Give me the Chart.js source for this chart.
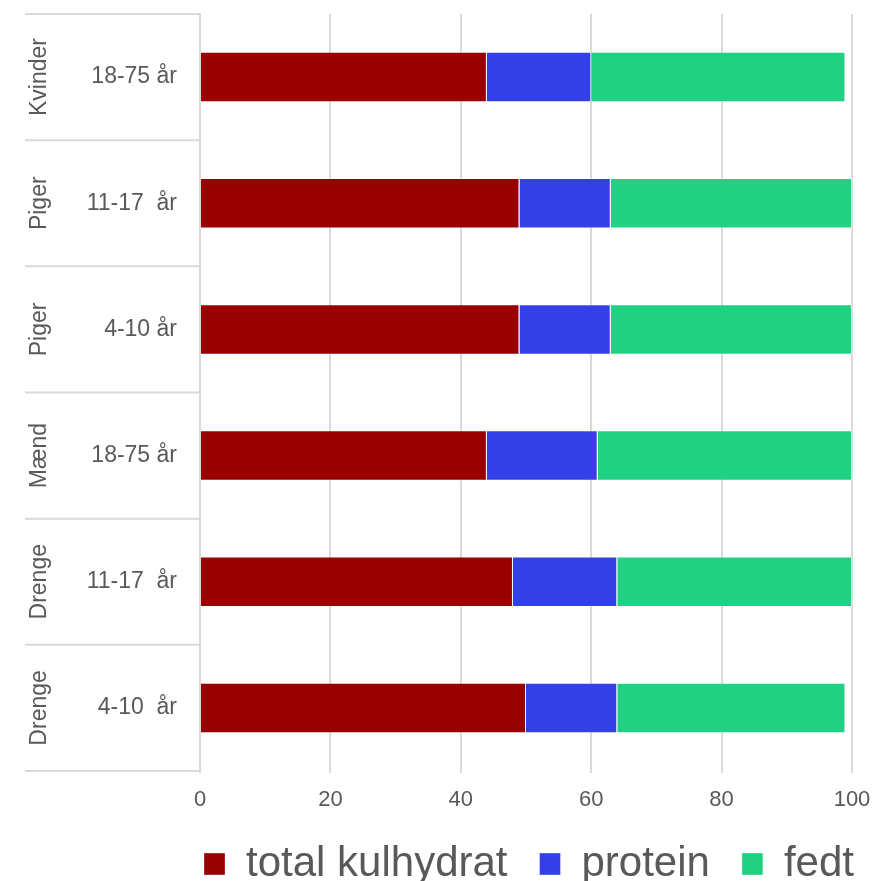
<!DOCTYPE html>
<html>
<head>
<meta charset="utf-8">
<script src="https://cdn.jsdelivr.net/npm/chart.js@4/dist/chart.umd.min.js"></script>
<style>
  html, body { margin: 0; padding: 0; background: #fff; }
  #wrap { width: 874px; height: 881px; }
</style>
</head>
<body>
<div id="wrap"><canvas id="energyChart"></canvas></div>
<script>
// Categories (top to bottom) and their group labels
const ageLabels = ['18-75 år', '11-17  år', '4-10 år', '18-75 år', '11-17  år', '4-10  år'];
const groupLabels = ['Kvinder', 'Piger', 'Piger', 'Mænd', 'Drenge', 'Drenge'];

// Energy share (%) per macronutrient
const kulhydrat = [44, 49, 49, 44, 48, 50];
const protein = [16, 14, 14, 17, 16, 14];
const fedt = [39, 37, 37, 39, 36, 35];

const xTicks = [0, 20, 40, 60, 80, 100];

const textColor = '#595959';
const lineColor = '#d9d9d9';
const fontFamily = '"Liberation Sans", Arial, sans-serif';

// Draws rotated group labels and the separator lines in the label area
const groupLabelPlugin = {
    id: 'groupLabels',
    afterLayout(chart) {
        // legend sits under the plot area rather than the whole canvas
        chart.legend.left += 103;
        chart.legend.right += 103;
    },
    afterDraw(chart) {
        const ctx = chart.ctx;
        const yScale = chart.scales.y;
        const left = 25;
        const right = chart.chartArea.left;
        const step = Math.abs(yScale.getPixelForValue(1) - yScale.getPixelForValue(0));

        ctx.save();
        ctx.strokeStyle = lineColor;
        ctx.lineWidth = 2;
        groupLabels.forEach((g, i) => {
            const yc = yScale.getPixelForValue(i);
            ctx.beginPath();
            ctx.moveTo(left, yc - step / 2);
            ctx.lineTo(right, yc - step / 2);
            ctx.stroke();
            if (i === groupLabels.length - 1) {
                ctx.beginPath();
                ctx.moveTo(left, yc + step / 2);
                ctx.lineTo(right, yc + step / 2);
                ctx.stroke();
            }
        });

        ctx.fillStyle = textColor;
        ctx.font = '23px ' + fontFamily;
        ctx.textAlign = 'center';
        ctx.textBaseline = 'middle';
        groupLabels.forEach((g, i) => {
            const yc = yScale.getPixelForValue(i);
            ctx.save();
            ctx.translate(40, yc);
            ctx.rotate(-Math.PI / 2);
            ctx.fillText(g, 0, 0);
            ctx.restore();
        });
        ctx.restore();
    }
};

const chart = new Chart(document.getElementById('energyChart').getContext('2d'), {
    type: 'bar',
    data: {
        labels: ageLabels,
        datasets: [
            {
                label: 'total kulhydrat',
                data: kulhydrat,
                backgroundColor: '#990000',
                borderColor: 'rgba(255,255,255,0.35)',
                borderWidth: 1
            },
            {
                label: 'protein',
                data: protein,
                backgroundColor: '#3340e8',
                borderColor: 'rgba(255,255,255,0.35)',
                borderWidth: 1
            },
            {
                label: 'fedt',
                data: fedt,
                backgroundColor: '#20d183',
                borderColor: 'rgba(255,255,255,0.35)',
                borderWidth: 1
            }
        ]
    },
    options: {
        indexAxis: 'y',
        responsive: true,
        maintainAspectRatio: false,
        animation: false,
        layout: {
            padding: { top: 14, right: 22, left: 0, bottom: -14 }
        },
        datasets: {
            bar: {
                barPercentage: 0.4,
                categoryPercentage: 1.0
            }
        },
        scales: {
            x: {
                stacked: true,
                min: 0,
                max: 100,
                afterBuildTicks: function(scale) {
                    scale.ticks = xTicks.map(v => ({ value: v }));
                },
                afterFit: function(scale) {
                    scale.height = 40;
                    scale.paddingLeft = 0;
                    scale.paddingRight = 0;
                },
                grid: {
                    color: lineColor,
                    lineWidth: 2,
                    drawTicks: true,
                    tickLength: 2
                },
                border: { display: false },
                ticks: {
                    color: textColor,
                    padding: 14,
                    font: { size: 22, family: fontFamily }
                }
            },
            y: {
                stacked: true,
                afterFit: function(scale) {
                    scale.width = 200;
                    scale.paddingTop = 0;
                    scale.paddingBottom = 0;
                },
                grid: { display: false },
                border: { display: true, color: lineColor, width: 2 },
                ticks: {
                    color: textColor,
                    padding: 15,
                    font: { size: 23, family: fontFamily }
                }
            }
        },
        plugins: {
            legend: {
                position: 'bottom',
                labels: {
                    color: textColor,
                    boxWidth: 21,
                    boxHeight: 22,
                    padding: 32,
                    font: { size: 42, family: fontFamily }
                }
            },
            tooltip: { enabled: false }
        }
    },
    plugins: [groupLabelPlugin]
});
</script>
</body>
</html>
